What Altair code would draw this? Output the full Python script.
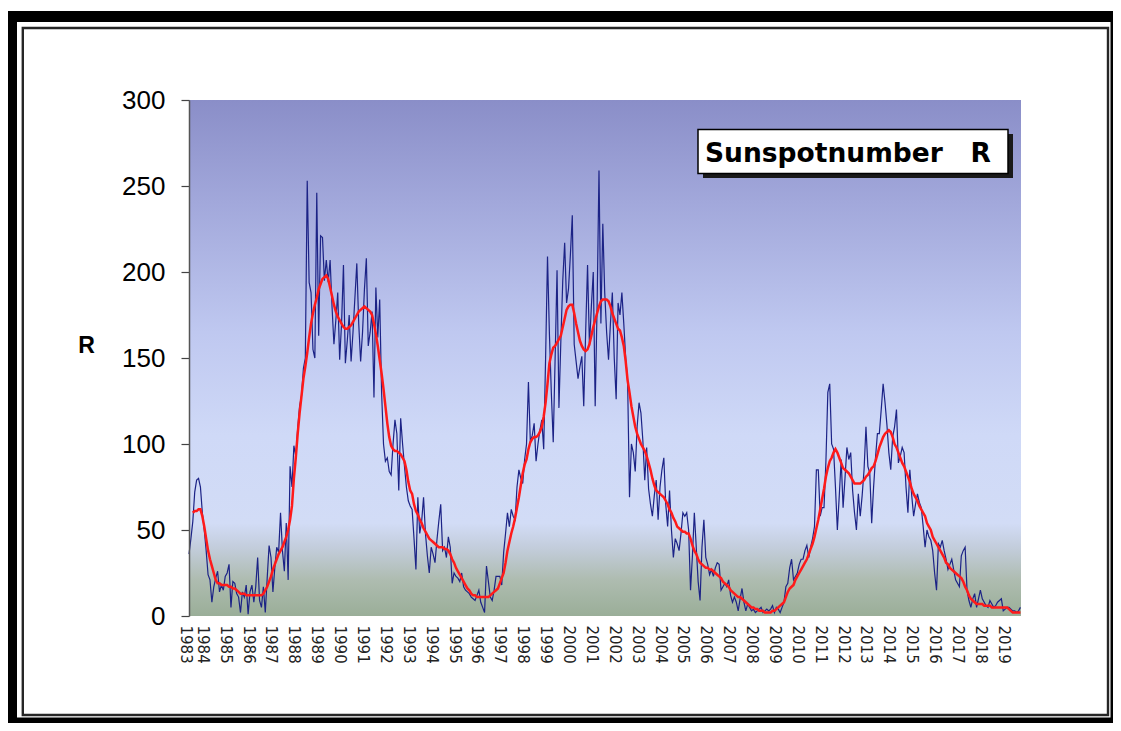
import altair as alt
import pandas as pd

# ---- monthly sunspot numbers (blue), Jun 1983 .. Oct 2019 ----
R1983 = [36, 45, 55, 72, 79, 80, 75]  # Jun-Dec
R1984 = [60, 50, 38, 24, 21, 8, 17, 22, 26, 14, 18, 15]
R1985 = [23, 25, 30, 5, 20, 19, 13, 11, 2, 14, 11, 18]
R1986 = [1, 14, 18, 8, 17, 34, 9, 5, 17, 2, 22, 41]
R1987 = [34, 14, 28, 40, 37, 60, 38, 26, 54, 21, 87, 75]
R1988 = [99, 93, 109, 122, 128, 144, 150, 253, 194, 188, 155, 150]
R1989 = [246, 163, 221, 220, 195, 207, 194, 207, 180, 158, 172, 188]
R1990 = [149, 170, 204, 147, 160, 175, 148, 165, 185, 205, 170, 148]
R1991 = [165, 190, 208, 157, 165, 177, 127, 191, 162, 184, 130, 100]
R1992 = [90, 92, 84, 82, 100, 114, 106, 73, 115, 100, 87, 75]
R1993 = [67, 64, 62, 45, 27, 69, 48, 55, 69, 48, 35, 25]
R1994 = [40, 36, 31, 44, 55, 65, 38, 40, 34, 46, 40, 19]
R1995 = [25, 23, 22, 20, 25, 17, 15, 14, 13, 11, 10, 9]
R1996 = [12, 15, 8, 5, 2, 29, 20, 11, 9, 15, 23, 23]
R1997 = [23, 18, 37, 48, 60, 52, 62, 58, 56, 75, 85, 80]
R1998 = [77, 91, 100, 136, 101, 105, 112, 90, 100, 108, 114, 97]
R1999 = [150, 209, 164, 130, 101, 150, 201, 121, 160, 195, 217, 182]
R2000 = [190, 210, 233, 158, 148, 138, 145, 151, 122, 165, 204, 157]
R2001 = [180, 200, 122, 180, 259, 170, 228, 188, 165, 149, 170, 188]
R2002 = [150, 126, 182, 175, 188, 170, 150, 137, 69, 100, 95, 84]
R2003 = [110, 124, 118, 102, 79, 98, 74, 65, 58, 70, 79, 56]
R2004 = [75, 85, 92, 65, 52, 73, 50, 34, 45, 42, 38, 48]
R2005 = [60, 58, 60, 50, 15, 35, 60, 40, 20, 9, 40, 56]
R2006 = [34, 30, 24, 27, 23, 28, 31, 30, 15, 17, 19, 17]
R2007 = [21, 12, 8, 11, 8, 3, 10, 16, 8, 3, 7, 5]
R2008 = [3, 4, 2, 3, 4, 5, 2, 3, 4, 3, 4, 6]
R2009 = [2, 5, 4, 2, 5, 8, 17, 19, 28, 33, 21, 23]
R2010 = [25, 30, 33, 33, 38, 41, 34, 40, 45, 52, 85, 85]
R2011 = [58, 63, 63, 90, 130, 135, 100, 97, 75, 50, 70, 91]
R2012 = [63, 80, 98, 91, 95, 73, 60, 50, 71, 58, 70, 85]
R2013 = [110, 87, 83, 54, 75, 92, 106, 106, 120, 135, 124, 111]
R2014 = [95, 85, 104, 110, 120, 89, 93, 98, 95, 75, 60, 85]
R2015 = [70, 58, 65, 71, 66, 63, 52, 40, 50, 46, 44, 38]
R2016 = [25, 15, 42, 40, 44, 38, 33, 27, 30, 33, 27, 21]
R2017 = [19, 17, 35, 38, 40, 15, 9, 5, 10, 13, 5, 10]
R2018 = [15, 10, 8, 6, 5, 9, 7, 5, 6, 8, 9, 10]
R2019 = [3, 4, 5, 5, 4, 3, 3, 2, 3, 5]  # Jan-Oct

# ---- smoothed sunspot numbers (red) ----
S1983 = [None, None, 60, 61, 61, 62, 62]
S1984 = [58, 52, 45, 38, 33, 29, 25, 21, 19, 19, 18, 18]
S1985 = [18, 18, 17, 17, 16, 16, 15, 14, 13, 13, 13, 12]
S1986 = [12, 12, 12, 12, 12, 12, 12, 12, 13, 15, 17, 20]
S1987 = [23, 27, 30, 33, 36, 38, 40, 43, 46, 50, 56, 64]
S1988 = [80, 92, 106, 118, 128, 138, 145, 153, 162, 170, 176, 181]
S1989 = [185, 190, 193, 196, 197, 198, 196, 191, 186, 181, 177, 174]
S1990 = [172, 170, 168, 167, 167, 168, 169, 171, 173, 175, 177, 178]
S1991 = [179, 180, 179, 178, 177, 175, 170, 164, 157, 149, 141, 132]
S1992 = [122, 112, 104, 99, 97, 96, 96, 95, 94, 92, 90, 85]
S1993 = [78, 73, 71, 65, 61, 59, 56, 54, 51, 49, 47, 45]
S1994 = [44, 43, 42, 41, 40, 40, 40, 39, 39, 38, 36, 33]
S1995 = [31, 28, 26, 24, 22, 20, 18, 16, 15, 13, 12, 12]
S1996 = [11, 11, 11, 11, 11, 11, 11, 12, 13, 14, 15, 16]
S1997 = [19, 22, 25, 31, 38, 43, 48, 52, 57, 63, 69, 76]
S1998 = [83, 88, 91, 97, 101, 103, 104, 104, 105, 107, 110, 116]
S1999 = [124, 135, 147, 152, 156, 157, 159, 161, 163, 168, 173, 178]
S2000 = [180, 181, 181, 176, 170, 165, 160, 157, 155, 154, 155, 158]
S2001 = [163, 168, 172, 176, 180, 183, 184, 184, 184, 183, 180, 176]
S2002 = [173, 170, 167, 166, 162, 157, 148, 137, 130, 122, 116, 110]
S2003 = [106, 103, 100, 98, 96, 93, 89, 85, 80, 76, 73, 72]
S2004 = [71, 70, 69, 67, 65, 62, 60, 57, 55, 52, 51, 50]
S2005 = [49, 49, 48, 48, 45, 41, 38, 36, 33, 31, 30, 29]
S2006 = [28, 28, 27, 27, 26, 25, 24, 23, 22, 20, 19, 18]
S2007 = [17, 15, 14, 13, 12, 11, 11, 10, 9, 8, 7, 6]
S2008 = [5, 5, 4, 4, 3, 3, 3, 2, 2, 2, 2, 3]
S2009 = [3, 4, 5, 6, 7, 8, 11, 14, 16, 17, 18, 21]
S2010 = [23, 25, 27, 29, 31, 33, 36, 39, 42, 46, 51, 56]
S2011 = [62, 68, 74, 81, 86, 90, 92, 95, 97, 95, 92, 89]
S2012 = [86, 85, 84, 83, 81, 79, 77, 77, 77, 77, 78, 79]
S2013 = [81, 82, 84, 86, 87, 90, 94, 98, 101, 104, 106, 107]
S2014 = [108, 107, 104, 100, 98, 95, 92, 89, 87, 84, 81, 78]
S2015 = [74, 71, 69, 67, 64, 62, 60, 58, 54, 52, 50, 46]
S2016 = [44, 42, 40, 38, 36, 34, 31, 30, 28, 27, 26, 25]
S2017 = [24, 23, 22, 20, 17, 15, 12, 10, 9, 8, 7, 7]
S2018 = [7, 7, 6, 6, 6, 6, 5, 5, 5, 5, 5, 5]
S2019 = [5, 5, 5, 4, 3, 2, 2, 2, 2, 2]

years = list(range(1983, 2020))
y_ticks = [0, 50, 100, 150, 200, 250, 300]
title_text = "Sunspotnumber\u00a0\u00a0\u00a0R"

g = globals()
rows = []
idx = 0
label_idx = []
label_txt = []
for yr in years:
    blue = g[f"R{yr}"]
    red = g[f"S{yr}"]
    first_month = 6 if yr == 1983 else 1
    for k, (b, s) in enumerate(zip(blue, red)):
        if k == 0:
            # the first (partial-year) label sits just left of the first point, as in the original
            label_idx.append(idx - 2 if yr == 1983 else idx)
            label_txt.append(str(yr))
        rows.append({"idx": idx, "year": yr, "month": first_month + k, "R": b, "S": s})
        idx += 1
df = pd.DataFrame(rows)
label_expr = "{" + ",".join(f"'{k}':'{v}'" for k, v in zip(label_idx, label_txt)) + "}[toString(datum.value)]"

W, H = 832, 516
one = pd.DataFrame({"k": [0]})

# first data point at the plot's left edge; the scale reaches 2 months further left for the "1983" label
xscale = alt.Scale(domain=[-2, 436.3], range=[-3.814, W], nice=False, zero=False)
yscale = alt.Scale(domain=[0, 300], nice=False)

xaxis = alt.Axis(values=label_idx, labelExpr=label_expr, labelAngle=90, labelAlign="left",
                 labelBaseline="middle", labelFont="DejaVu Sans", labelFontSize=15,
                 labelColor="#222222", labelPadding=9, ticks=False, domain=False, grid=False,
                 labelOverlap=False, labelFlush=False, labelBound=False, title=None, zindex=2)
yaxis = alt.Axis(values=y_ticks, labelFont="Liberation Sans", labelFontSize=26, labelColor="#000000",
                 tickSize=8, tickColor="#444444", tickWidth=1.2, domainColor="#555555", domainWidth=1.5,
                 labelPadding=16, grid=False, labelOverlap=False, title="R", titleAngle=0,
                 titleFont="Liberation Sans", titleFontSize=23, titleFontWeight="bold",
                 titleColor="#000000", titleX=-103, titleY=245, titleAlign="center",
                 titleBaseline="middle", zindex=2)

def rect(x, x2, y, y2, **kw):
    return alt.Chart(one).mark_rect(**kw).encode(
        x=alt.value(x), x2=alt.value(x2), y=alt.value(y), y2=alt.value(y2))

frame_outer = rect(-181, 924, -89, 623, color="#000000")
frame_gap = rect(-172, 921.5, -78, 617.5, color="#ffffff")
frame_inner = rect(-166.2, 919, -72, 615, fill="#ffffff", stroke="#262626", strokeWidth=2.4)

bg = alt.Chart(one).mark_rect(
    fill=alt.Gradient(gradient="linear", x1=0, y1=0, x2=0, y2=1, stops=[
        alt.GradientStop(offset=0.0, color="#8a8ec8"),
        alt.GradientStop(offset=0.2, color="#a2a8db"),
        alt.GradientStop(offset=0.45, color="#bfc8f0"),
        alt.GradientStop(offset=0.65, color="#cfd9f7"),
        alt.GradientStop(offset=0.82, color="#d2dcf6"),
        alt.GradientStop(offset=0.87, color="#c2ccda"),
        alt.GradientStop(offset=0.93, color="#aebcb0"),
        alt.GradientStop(offset=1.0, color="#9aae98"),
    ])
).encode(x=alt.value(0), x2=alt.value(W), y=alt.value(0), y2=alt.value(H))

base = alt.Chart(df)
blue_line = base.mark_line(color="#1c2386", strokeWidth=1.2).encode(
    x=alt.X("idx:Q", scale=xscale, axis=xaxis),
    y=alt.Y("R:Q", scale=yscale, axis=yaxis),
)
red_line = base.transform_filter("isValid(datum.S)").mark_line(color="#ff1a1a", strokeWidth=2.5).encode(
    x=alt.X("idx:Q", scale=xscale, axis=xaxis),
    y=alt.Y("S:Q", scale=yscale, axis=yaxis),
)

shadow = rect(514, 824, 34, 78, color="#1a1a1a")
box = rect(509, 819, 29.5, 73.5, fill="#ffffff", stroke="#000000", strokeWidth=1.5)
title = alt.Chart(one).mark_text(
    text=title_text, font="DejaVu Sans", fontWeight="bold", fontSize=26.5,
    align="left", baseline="alphabetic", color="#000000"
).encode(x=alt.value(516), y=alt.value(62))

chart = alt.layer(
    frame_outer, frame_gap, frame_inner, bg, blue_line, red_line, shadow, box, title
).resolve_scale(x="shared", y="shared").properties(
    width=W, height=H,
    autosize=alt.AutoSizeParams(type="none"),
    padding={"left": 181, "top": 92, "right": 92, "bottom": 107},
).configure_view(stroke=None).configure_axis(labelOverlap=False).configure(background="#ffffff")

chart.save("out.html", embed_options={"renderer": "svg", "actions": False})
